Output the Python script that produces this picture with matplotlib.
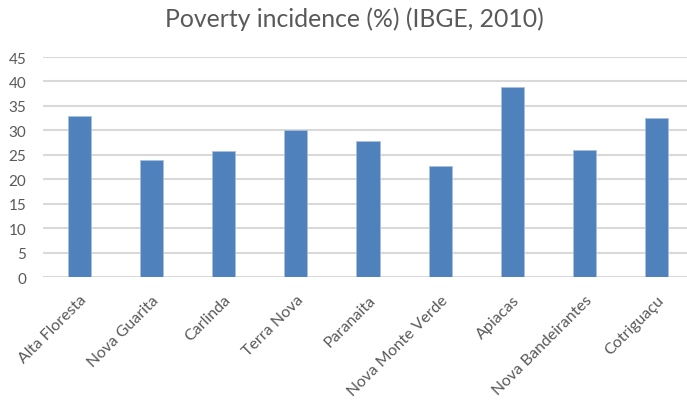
import matplotlib
matplotlib.use("Agg")
import matplotlib.pyplot as plt

plt.rcParams['font.family'] = ['Lato', 'DejaVu Sans']

municipios = ["Alta Floresta", "Nova Guarita", "Carlinda", "Terra Nova", "Paranaita",
              "Nova Monte Verde", "Apiacas", "Nova Bandeirantes", "Cotriguaçu"]
pobreza = [33.0, 23.9, 25.7, 30.0, 27.9, 22.8, 38.9, 26.1, 32.6]
yticks = list(range(0, 50, 5))

fig = plt.figure(figsize=(6.87, 4.02), dpi=100)
ax = fig.add_axes([43 / 687, 123.7 / 402, 650 / 687, 220.3 / 402])

x = range(len(municipios))
ax.bar(x, pobreza, width=0.32, color="#4f81bd", edgecolor="#a9c1de", linewidth=0.6, zorder=3)

ax.set_xlim(-0.5, len(municipios) - 0.5)
ax.set_ylim(0, 45)
ax.set_yticks(yticks)
ax.yaxis.grid(True, color="#d9d9d9", linewidth=1.5, zorder=0)
ax.set_xticks(list(x))
ax.set_xticklabels(municipios, rotation=45, ha="right", rotation_mode="anchor")
ax.tick_params(axis="both", length=0, labelsize=11.5, labelcolor="#595959")
ax.tick_params(axis="x", pad=11)
ax.tick_params(axis="y", labelsize=11, pad=12)
for s in ax.spines.values():
    s.set_visible(False)

fig.text(354 / 687, 1 - 19 / 402, "Poverty incidence (%) (IBGE, 2010)",
         ha="center", va="center", fontsize=17.8, color="#595959")

fig.savefig("out.png", dpi=100)
